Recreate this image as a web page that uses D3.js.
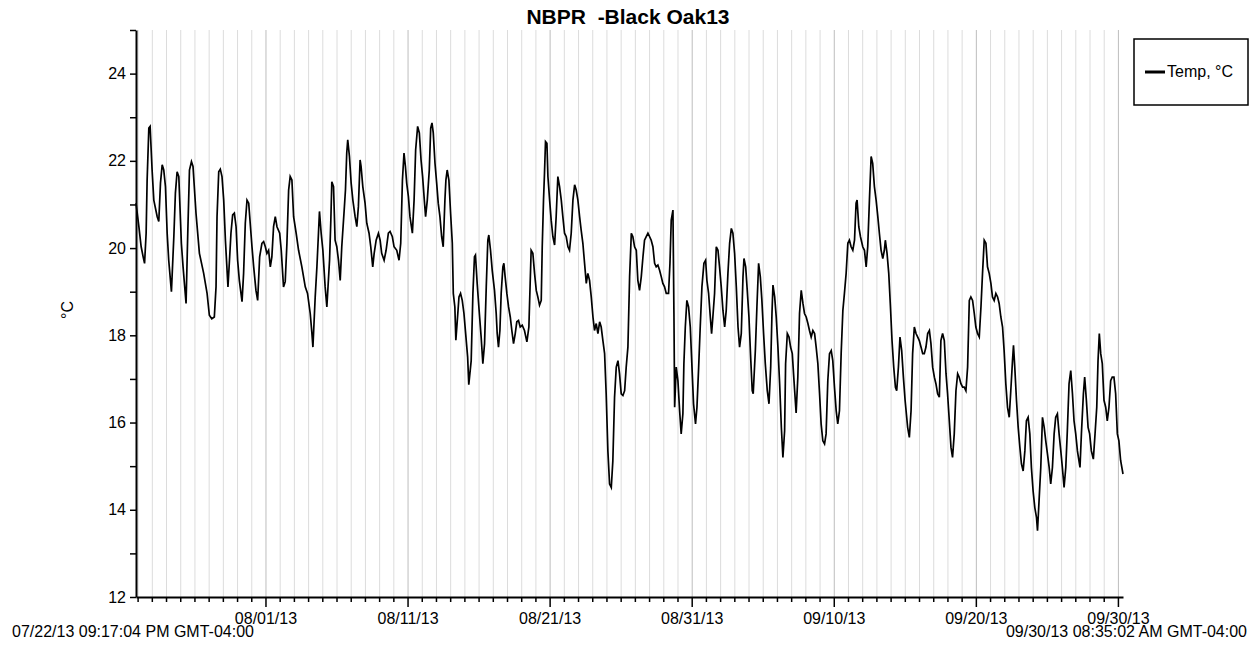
<!DOCTYPE html>
<html>
<head>
<meta charset="utf-8">
<script src="https://cdn.jsdelivr.net/npm/d3@7"></script>
<style>
  html, body { margin: 0; padding: 0; background: #fff; }
  svg { display: block; font-family: "Liberation Sans", Arial, sans-serif; }
</style>
</head>
<body>
<svg id="chart" width="1260" height="651"></svg>
<script>
// ---- chart text ----
const chartTitle = "NBPR  -Black Oak13";
const seriesName = "Temp, °C";
const yAxisTitle = "°C";
const recordStart = "07/22/13 09:17:04 PM GMT-04:00";
const recordEnd = "09/30/13 08:35:02 AM GMT-04:00";

// ---- tick labels ----
const dateTickLabels = ["08/01/13", "08/11/13", "08/21/13", "08/31/13", "09/10/13", "09/20/13", "09/30/13"];
const tempTickLabels = [12, 14, 16, 18, 20, 22, 24];
const tempMinorTicks = [13, 15, 17, 19, 21, 23, 25];
const tempRange = [12, 25];

// ---- logger readings: [days since 07/22/13 00:00, temperature °C] ----
const readings = [
  [0.887,21.03],[1.09,20.49],[1.25,20.03],[1.39,19.80],[1.49,19.65],[1.60,20.34],[1.67,21.56],[1.79,22.75],[1.88,22.79],
  [2.02,21.79],[2.14,21.10],[2.38,20.72],[2.49,20.61],[2.61,21.49],[2.73,21.91],[2.84,21.79],[2.96,21.41],
  [3.08,20.34],[3.19,19.72],[3.38,19.00],[3.55,20.26],[3.66,21.26],[3.78,21.75],[3.90,21.64],
  [4.08,20.11],[4.20,19.57],[4.41,18.73],[4.53,20.34],[4.65,21.79],[4.79,21.98],[4.90,21.87],
  [5.11,20.80],[5.35,19.88],[5.65,19.42],[5.89,18.96],[6.05,18.46],[6.22,18.38],[6.40,18.42],[6.52,19.11],
  [6.59,20.72],[6.71,21.75],[6.82,21.81],[6.94,21.64],[7.06,21.10],[7.18,20.18],[7.36,19.11],[7.48,19.80],
  [7.57,20.34],[7.69,20.76],[7.81,20.80],[7.93,20.49],[8.04,19.72],[8.16,19.26],[8.35,18.77],[8.46,19.42],
  [8.58,20.57],[8.70,21.10],[8.82,21.03],[9.05,20.03],[9.17,19.57],[9.33,19.03],[9.45,18.80],[9.59,19.80],
  [9.75,20.11],[9.87,20.15],[9.99,20.03],[10.10,19.88],[10.22,19.95],[10.34,19.57],[10.45,19.80],[10.57,20.49],
  [10.69,20.72],[10.81,20.49],[11.00,20.34],[11.11,19.95],[11.27,19.11],[11.39,19.23],[11.51,20.11],[11.63,21.33],
  [11.74,21.64],[11.86,21.56],[11.98,20.72],[12.16,20.34],[12.33,19.95],[12.56,19.57],[12.80,19.11],[12.96,18.96],
  [13.15,18.50],[13.27,18.04],[13.34,17.73],[13.50,18.88],[13.62,19.57],[13.73,20.34],[13.80,20.84],[13.92,20.34],
  [14.04,19.95],[14.20,19.11],[14.32,18.65],[14.51,19.72],[14.60,20.64],[14.67,21.52],[14.79,21.41],[14.90,20.18],
  [15.02,20.03],[15.14,19.72],[15.26,19.26],[15.37,20.03],[15.54,20.87],[15.63,21.33],[15.72,22.18],[15.79,22.48],
  [15.91,22.10],[16.03,21.49],[16.15,21.10],[16.31,20.72],[16.43,20.49],[16.54,20.95],[16.66,22.02],[16.73,21.87],
  [16.85,21.41],[17.01,21.03],[17.13,20.57],[17.29,20.34],[17.41,20.03],[17.55,19.57],[17.65,19.88],[17.79,20.18],
  [17.95,20.34],[18.07,20.18],[18.18,19.88],[18.35,19.72],[18.49,19.95],[18.65,20.34],[18.77,20.38],[18.93,20.26],
  [19.05,20.03],[19.24,19.95],[19.40,19.72],[19.52,20.11],[19.64,21.56],[19.75,22.18],[19.85,21.87],[19.94,21.49],
  [20.06,21.18],[20.17,20.72],[20.34,20.34],[20.46,21.10],[20.57,22.25],[20.71,22.79],[20.83,22.64],[20.95,22.02],
  [21.06,21.64],[21.18,21.10],[21.27,20.72],[21.39,21.10],[21.53,21.79],[21.63,22.75],[21.72,22.87],[21.81,22.64],
  [21.93,21.95],[22.05,21.49],[22.16,21.03],[22.28,20.72],[22.40,20.26],[22.51,20.03],[22.63,21.10],[22.70,21.56],
  [22.79,21.79],[22.91,21.56],[23.03,20.80],[23.15,20.11],[23.22,18.96],[23.33,18.65],[23.40,17.89],[23.52,18.42],
  [23.62,18.88],[23.73,18.96],[23.85,18.80],[23.97,18.50],[24.09,18.04],[24.23,17.50],[24.31,16.87],[24.48,17.42],
  [24.60,18.96],[24.71,19.80],[24.78,19.84],[24.90,19.19],[25.02,18.65],[25.18,17.96],[25.30,17.35],[25.42,17.81],
  [25.54,19.11],[25.65,20.18],[25.72,20.30],[25.84,19.95],[25.96,19.49],[26.12,19.03],[26.24,18.50],[26.31,18.04],
  [26.40,17.73],[26.50,18.11],[26.59,18.96],[26.71,19.57],[26.78,19.65],[26.87,19.34],[26.99,18.96],[27.11,18.65],
  [27.23,18.42],[27.34,18.11],[27.46,17.81],[27.58,18.04],[27.69,18.31],[27.81,18.34],[27.93,18.19],[28.07,18.23],
  [28.23,18.11],[28.40,17.85],[28.54,18.19],[28.63,19.19],[28.70,19.95],[28.82,19.88],[28.94,19.42],[29.06,19.03],
  [29.17,18.88],[29.29,18.69],[29.41,18.80],[29.48,20.03],[29.57,21.10],[29.64,21.72],[29.71,22.44],[29.81,22.40],
  [29.88,21.64],[30.00,21.10],[30.11,20.64],[30.23,20.26],[30.35,20.07],[30.46,20.72],[30.58,21.64],[30.70,21.41],
  [30.82,21.10],[30.93,20.72],[31.05,20.34],[31.17,20.26],[31.29,20.03],[31.40,19.95],[31.52,20.34],[31.64,21.10],
  [31.76,21.45],[31.87,21.33],[31.99,21.10],[32.11,20.72],[32.22,20.41],[32.34,20.11],[32.46,19.65],[32.58,19.19],
  [32.69,19.42],[32.81,19.26],[32.93,18.88],[33.05,18.42],[33.16,18.11],[33.28,18.27],[33.40,18.04],[33.52,18.31],
  [33.63,18.19],[33.75,17.88],[33.87,17.58],[33.98,16.66],[34.10,15.35],[34.22,14.59],[34.34,14.51],[34.45,15.12],
  [34.57,16.58],[34.69,17.27],[34.81,17.42],[34.92,17.12],[35.04,16.66],[35.16,16.62],[35.28,16.73],[35.39,17.27],
  [35.51,17.73],[35.63,19.34],[35.75,20.34],[35.86,20.26],[35.98,20.03],[36.10,19.95],[36.21,19.26],[36.33,19.03],
  [36.45,19.34],[36.57,19.80],[36.68,20.18],[36.80,20.26],[36.92,20.34],[37.04,20.26],[37.15,20.18],[37.27,20.03],
  [37.39,19.65],[37.50,19.57],[37.62,19.61],[37.74,19.49],[37.86,19.34],[37.97,19.19],[38.09,19.11],[38.21,18.96],
  [38.37,18.96],[38.47,19.65],[38.56,20.64],[38.68,20.87],[38.75,18.50],[38.80,16.35],[38.91,17.27],[39.03,16.96],
  [39.15,16.27],[39.26,15.74],[39.38,16.20],[39.45,17.35],[39.55,18.19],[39.66,18.80],[39.78,18.65],[39.90,18.19],
  [40.02,17.27],[40.13,16.43],[40.27,15.97],[40.37,16.35],[40.49,17.27],[40.60,18.19],[40.72,19.11],[40.86,19.65],
  [40.98,19.72],[41.07,19.26],[41.19,18.96],[41.31,18.42],[41.40,18.04],[41.49,18.42],[41.61,18.96],[41.73,20.03],
  [41.85,19.95],[41.96,19.57],[42.08,19.11],[42.20,18.57],[42.32,18.19],[42.43,18.57],[42.55,19.42],[42.67,20.11],
  [42.79,20.45],[42.90,20.34],[43.02,19.88],[43.14,19.11],[43.26,18.19],[43.37,17.73],[43.49,18.04],[43.61,19.34],
  [43.68,19.76],[43.80,19.57],[43.91,19.03],[44.03,18.42],[44.15,17.50],[44.26,16.73],[44.33,16.66],[44.48,17.65],
  [44.59,18.65],[44.71,19.65],[44.83,19.34],[44.94,18.80],[45.06,18.04],[45.18,17.35],[45.32,16.73],[45.44,16.43],
  [45.56,17.27],[45.65,18.50],[45.72,19.15],[45.84,18.88],[45.95,18.42],[46.07,17.73],[46.19,16.89],[46.31,15.89],
  [46.42,15.20],[46.54,15.81],[46.61,17.35],[46.73,18.04],[46.85,17.96],[46.96,17.73],[47.08,17.58],[47.20,16.96],
  [47.35,16.22],[47.47,17.04],[47.59,18.50],[47.71,19.03],[47.83,18.73],[47.94,18.50],[48.06,18.42],[48.18,18.27],
  [48.29,18.11],[48.41,17.96],[48.53,18.11],[48.65,18.04],[48.76,17.73],[48.88,17.35],[49.00,16.66],[49.11,15.97],
  [49.23,15.58],[49.35,15.51],[49.46,15.74],[49.58,16.96],[49.70,17.58],[49.82,17.65],[49.93,17.42],[50.05,16.81],
  [50.17,16.27],[50.28,15.97],[50.40,16.27],[50.52,17.58],[50.64,18.57],[50.75,18.96],[50.87,19.42],[50.99,20.11],
  [51.10,20.18],[51.22,20.03],[51.34,19.95],[51.46,20.18],[51.57,21.03],[51.64,21.10],[51.76,20.49],[51.88,20.26],
  [52.04,20.03],[52.16,19.95],[52.28,19.57],[52.39,20.03],[52.51,21.10],[52.63,22.10],[52.74,21.94],[52.86,21.41],
  [52.98,21.10],[53.10,20.72],[53.21,20.34],[53.33,19.95],[53.45,19.76],[53.56,19.95],[53.63,20.18],[53.75,19.88],
  [53.87,19.42],[53.99,18.65],[54.10,17.88],[54.22,17.27],[54.34,16.81],[54.43,16.73],[54.55,17.27],[54.66,17.96],
  [54.78,17.65],[54.90,17.04],[55.02,16.51],[55.20,15.89],[55.32,15.66],[55.44,16.27],[55.55,17.58],[55.67,18.19],
  [55.79,18.04],[55.91,17.96],[56.02,17.88],[56.14,17.73],[56.26,17.58],[56.37,17.58],[56.49,17.73],[56.61,18.04],
  [56.73,18.11],[56.84,17.81],[56.96,17.27],[57.08,17.04],[57.19,16.89],[57.31,16.66],[57.43,16.58],[57.54,17.88],
  [57.66,18.04],[57.78,17.88],[57.90,17.12],[58.01,16.66],[58.13,16.05],[58.25,15.43],[58.36,15.20],[58.48,15.74],
  [58.60,16.73],[58.72,17.12],[58.83,17.04],[58.95,16.89],[59.07,16.81],[59.18,16.81],[59.30,16.73],[59.42,17.27],
  [59.54,18.80],[59.65,18.88],[59.77,18.80],[59.89,18.50],[60.00,18.19],[60.12,18.04],[60.24,17.96],[60.36,18.65],
  [60.47,19.42],[60.59,20.18],[60.71,20.11],[60.82,19.57],[60.94,19.42],[61.06,19.19],[61.17,18.88],[61.29,18.80],
  [61.41,18.96],[61.53,18.88],[61.64,18.73],[61.76,18.42],[61.88,18.19],[61.99,17.65],[62.11,16.89],[62.23,16.35],
  [62.35,16.12],[62.46,16.73],[62.58,17.42],[62.65,17.77],[62.74,17.27],[62.86,16.51],[62.98,15.89],[63.10,15.43],
  [63.21,15.05],[63.33,14.89],[63.45,15.35],[63.56,16.04],[63.68,16.12],[63.80,15.74],[63.91,14.97],[64.03,14.43],
  [64.15,14.05],[64.27,13.82],[64.34,13.52],[64.45,14.21],[64.57,14.97],[64.69,16.12],[64.81,15.89],[64.92,15.58],
  [65.04,15.28],[65.16,14.97],[65.27,14.59],[65.39,14.97],[65.51,15.74],[65.62,16.12],[65.74,16.20],[65.86,15.74],
  [65.98,15.35],[66.09,14.97],[66.21,14.51],[66.33,14.97],[66.44,15.81],[66.56,16.89],[66.68,17.19],[66.80,16.66],
  [66.91,16.04],[67.03,15.74],[67.15,15.35],[67.33,14.97],[67.43,15.74],[67.57,16.66],[67.66,17.04],[67.78,16.51],
  [67.90,15.89],[68.01,15.74],[68.13,15.35],[68.27,15.16],[68.39,15.74],[68.51,16.35],[68.60,17.42],[68.69,18.04],
  [68.79,17.58],[68.90,17.35],[69.02,16.51],[69.14,16.35],[69.25,16.04],[69.37,16.35],[69.49,16.96],[69.60,17.04],
  [69.72,17.04],[69.84,16.66],[69.96,15.74],[70.07,15.58],[70.19,15.13],[70.358,14.82]
];

// ---- drawing ----
const svg = d3.select("#chart");
const parseStamp = d3.timeParse("%m/%d/%y %I:%M:%S %p");
const parseDay = d3.timeParse("%m/%d/%y");
const startTime = parseStamp(recordStart.replace(" GMT-04:00", ""));
const endTime = parseStamp(recordEnd.replace(" GMT-04:00", ""));
const dayZero = new Date(2013, 6, 22);
const series = readings.map(([d, t]) => ({ time: new Date(dayZero.getTime() + d * 864e5), temp: t }));

const plot = { left: 136, right: 1123, top: 30, bottom: 597 };
const x = d3.scaleTime().domain([startTime, endTime]).range([plot.left, plot.right]);
const y = d3.scaleLinear().domain(tempRange).range([plot.bottom, plot.top]);

const midnights = d3.timeDay.range(d3.timeDay.ceil(startTime), endTime);
const majorDates = dateTickLabels.map(parseDay);
const isMajor = d => majorDates.some(m => +m === +d);

// daily grid lines
const grid = svg.append("g").attr("transform", `translate(0,${plot.bottom})`)
  .call(d3.axisBottom(x).tickValues(midnights).tickSize(-(plot.bottom - plot.top)).tickFormat(""));
grid.select(".domain").remove();
grid.selectAll(".tick line")
  .attr("stroke", d => isMajor(d) ? "#bdbdbd" : "#dcdcdc")
  .attr("stroke-width", 1);

// temperature trace
svg.append("path")
  .datum(series)
  .attr("fill", "none")
  .attr("stroke", "#000")
  .attr("stroke-width", 1.7)
  .attr("stroke-linejoin", "miter")
  .attr("d", d3.line().x(d => x(d.time)).y(d => y(d.temp)));

// x axis: minor daily ticks, major labelled ticks
const xMinor = svg.append("g").attr("transform", `translate(0,${plot.bottom})`)
  .call(d3.axisBottom(x).tickValues(midnights.filter(d => !isMajor(d))).tickSize(5).tickSizeOuter(0).tickFormat(""));
xMinor.select(".domain").attr("stroke", "#000").attr("stroke-width", 2);
xMinor.selectAll(".tick line").attr("stroke", "#000").attr("stroke-width", 1.5);

const xMajor = svg.append("g").attr("transform", `translate(0,${plot.bottom})`)
  .call(d3.axisBottom(x).tickValues(majorDates).tickSize(10).tickSizeOuter(0)
    .tickFormat((d, i) => dateTickLabels[i]));
xMajor.select(".domain").remove();
xMajor.selectAll(".tick line").attr("stroke", "#000").attr("stroke-width", 1.5);
xMajor.selectAll(".tick text")
  .attr("y", 27).attr("dy", null)
  .attr("font-size", 16).attr("fill", "#000")
  .attr("font-family", "'Liberation Sans', Arial, sans-serif");

// y axis
const yMinor = svg.append("g").attr("transform", `translate(${plot.left},0)`)
  .call(d3.axisLeft(y).tickValues(tempMinorTicks).tickSize(6).tickSizeOuter(0).tickFormat(""));
yMinor.select(".domain").attr("stroke", "#000").attr("stroke-width", 2);
yMinor.selectAll(".tick line").attr("stroke", "#000").attr("stroke-width", 1.5);

const yMajor = svg.append("g").attr("transform", `translate(${plot.left},0)`)
  .call(d3.axisLeft(y).tickValues(tempTickLabels).tickSize(6).tickPadding(4).tickSizeOuter(0));
yMajor.select(".domain").remove();
yMajor.selectAll(".tick line").attr("stroke", "#000").attr("stroke-width", 1.5);
yMajor.selectAll(".tick text")
  .attr("font-size", 16).attr("fill", "#000")
  .attr("font-family", "'Liberation Sans', Arial, sans-serif");

// y axis title
svg.append("text")
  .attr("transform", "translate(67,310) rotate(-90)")
  .attr("text-anchor", "middle")
  .attr("dy", "0.35em")
  .attr("font-size", 16)
  .text(yAxisTitle);

// chart title
svg.append("text")
  .attr("x", 628).attr("y", 24)
  .attr("text-anchor", "middle")
  .attr("font-size", 21).attr("font-weight", "bold")
  .style("white-space", "pre")
  .text(chartTitle);

// record start / end stamps
svg.append("text").attr("x", 12).attr("y", 637).attr("font-size", 16).text(recordStart);
svg.append("text").attr("x", 1247).attr("y", 637).attr("text-anchor", "end").attr("font-size", 16).text(recordEnd);

// legend
const legend = svg.append("g");
legend.append("rect").attr("x", 1134).attr("y", 39).attr("width", 114).attr("height", 66)
  .attr("fill", "#fff").attr("stroke", "#000").attr("stroke-width", 1.5);
legend.append("line").attr("x1", 1145).attr("x2", 1165).attr("y1", 72).attr("y2", 72)
  .attr("stroke", "#000").attr("stroke-width", 3);
legend.append("text").attr("x", 1167).attr("y", 77).attr("font-size", 16).text(seriesName);
</script>
</body>
</html>
